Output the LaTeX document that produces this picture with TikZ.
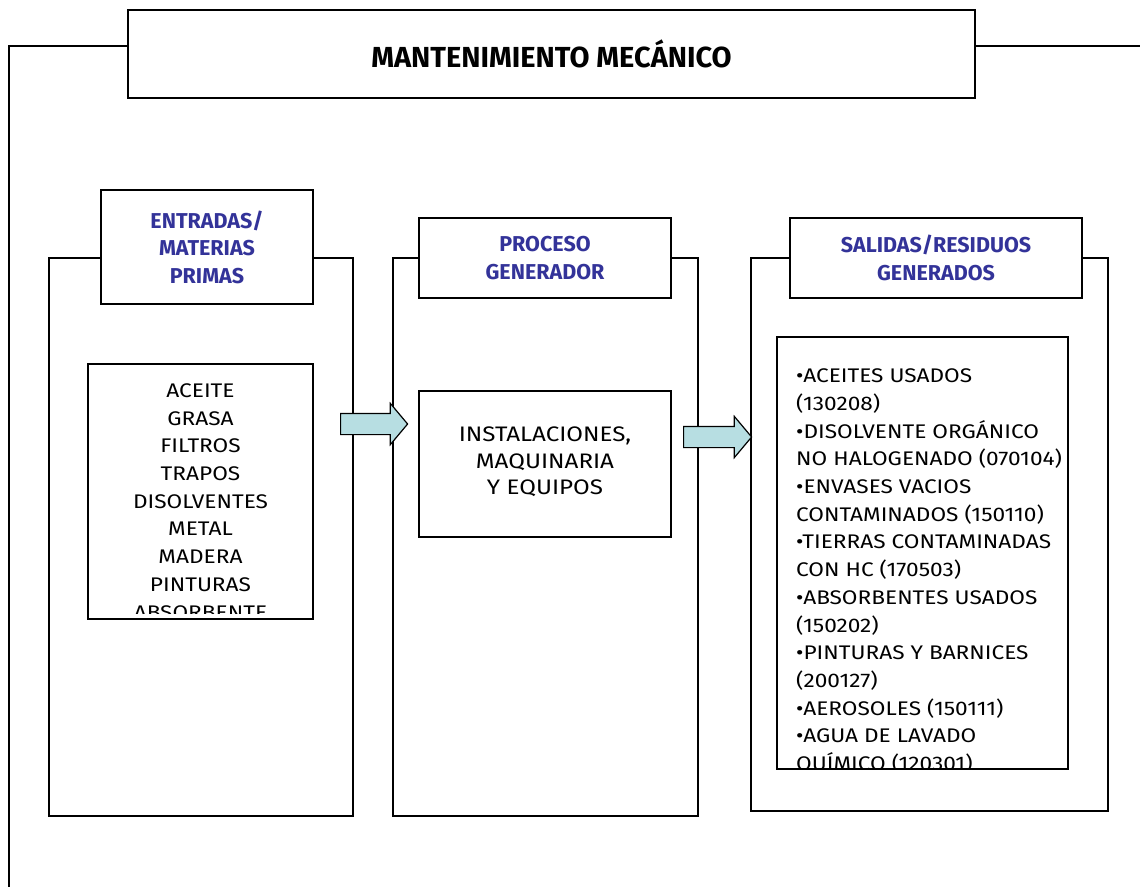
\documentclass[tikz,border=0pt]{standalone}
\usepackage{fontspec}
\setmainfont{Fira Sans}[FakeStretch=1.15]
\newfontfamily\headfont{Fira Sans}
\usetikzlibrary{shapes.arrows}
\definecolor{headblue}{RGB}{51,51,153}
\definecolor{arrowfill}{RGB}{183,222,226}
\tikzset{
	box/.style={draw, line width=1.2pt, inner sep=0pt, fill=white},
	headtext/.style={align=center, text=headblue, font=\headfont\fontsize{21.5}{27.5}\selectfont\bfseries},
	listtext/.style={inner sep=0pt, font=\fontsize{19.7}{27.7}\selectfont},
	flowarrow/.style={single arrow, draw, line width=1.2pt, fill=arrowfill, inner xsep=0pt,
		inner ysep=10pt, single arrow head extend=10pt, single arrow tip angle=100, anchor=tail}
}
\begin{document}
\begin{tikzpicture}[x=1pt,y=-1pt]
		\useasboundingbox (0,0) rectangle (1140,886);
		% outer frame, runs off the page
		\begin{scope}
		\clip (0,0) rectangle (1140,886);
		\draw[line width=1.2pt] (9,46) rectangle (1170,920);
		\end{scope}
		\node[box, minimum width=847pt, minimum height=88pt, text depth=-6pt,
			font=\headfont\fontsize{29}{34}\selectfont\bfseries] (title) at (551.5,54) {MANTENIMIENTO MEC\'ANICO};
		% columns
		\node[box, minimum width=304pt, minimum height=558pt] (inCol) at (201,537) {};
		\node[box, minimum width=305pt, minimum height=558pt] (procCol) at (545.5,537) {};
		\node[box, minimum width=357pt, minimum height=553pt] (outCol) at (929.5,534.5) {};
		% headers
		\node[box, headtext, minimum width=212pt, minimum height=114pt] (inHead) at (207,247) {ENTRADAS/\\MATERIAS\\PRIMAS};
		\node[box, headtext, minimum width=252pt, minimum height=80pt] (procHead) at (545,258) {PROCESO\\GENERADOR};
		\node[box, headtext, minimum width=292pt, minimum height=80pt] (outHead) at (936,258) {SALIDAS/RESIDUOS\\GENERADOS};
		% inner boxes
		\node[box, minimum width=225pt, minimum height=255pt] (inBox) at (200.5,491.5) {};
		\node[box, minimum width=252pt, minimum height=146pt] (procBox) at (545,464) {};
		\node[box, minimum width=291pt, minimum height=432pt] (outBox) at (922.5,553) {};
		\begin{scope}
		\clip (inBox.north west) rectangle ([yshift=6pt]inBox.south east);
		\node[listtext, align=center, anchor=base] (inList) at (200.5,619)
			{ACEITE\\GRASA\\FILTROS\\TRAPOS\\DISOLVENTES\\METAL\\MADERA\\PINTURAS\\ABSORBENTE};
		\end{scope}
		\node[listtext, align=center, font=\fontsize{21}{26.7}\selectfont] (procList) at ([yshift=2pt]procBox.center) {INSTALACIONES,\\MAQUINARIA\\Y EQUIPOS};
		\begin{scope}
		\clip (outBox.north west) rectangle (outBox.south east);
		\node[listtext, align=left, anchor=base west] (outList) at (796,770.5)
			{•ACEITES USADOS\\(130208)\\•DISOLVENTE ORG\'ANICO\\NO HALOGENADO (070104)\\%
			•ENVASES VACIOS\\CONTAMINADOS (150110)\\•TIERRAS CONTAMINADAS\\CON HC (170503)\\%
			•ABSORBENTES USADOS\\(150202)\\•PINTURAS Y BARNICES\\(200127)\\%
			•AEROSOLES (150111)\\•AGUA DE LAVADO\\QU\'IMICO (120301)};
		\end{scope}
		% arrows between columns
		\node[flowarrow, minimum height=67pt] (arrowA) at (340,424) {};
		\node[flowarrow, minimum height=68pt] (arrowB) at (683,437) {};
\end{tikzpicture}
\end{document}
